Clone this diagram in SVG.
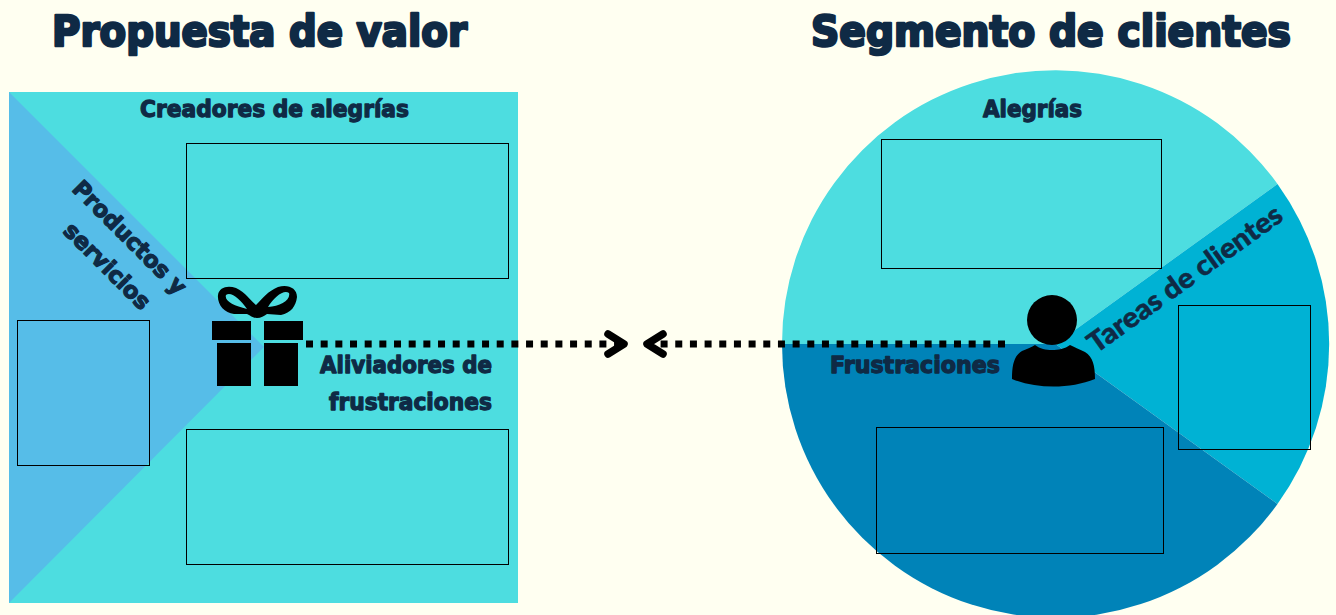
<svg xmlns="http://www.w3.org/2000/svg" width="1336" height="615" viewBox="0 0 1336 615">
<style>
.t{font-family:"DejaVu Sans","Liberation Sans",sans-serif;font-weight:700;fill:#0f2a45;stroke:#0f2a45;stroke-linejoin:round}
.h{font-size:42px;stroke-width:2.6px}
.s{font-size:23px;stroke-width:1.3px}
.b{fill:none;stroke:#000;stroke-width:1px}
.d{fill:none;stroke:#000;stroke-width:7px;stroke-dasharray:7 7.67}
.c{fill:none;stroke:#000;stroke-width:7.500px;stroke-linecap:round;stroke-linejoin:round}
</style>
<rect width="1336" height="615" fill="#fffff1"/>
<g id="titulo-propuesta"><text class="t h" x="52" y="46" textLength="415" lengthAdjust="spacingAndGlyphs">Propuesta de valor</text></g>
<g id="titulo-segmento"><text class="t h" x="811" y="46" textLength="480" lengthAdjust="spacingAndGlyphs">Segmento de clientes</text></g>
<g id="propuesta-fondo">
<rect x="9" y="92" width="509" height="511" fill="#4ddde0"/>
<path d="M9 92L264 347L9 603Z" fill="#56bde8"/>
</g>
<g id="segmento-fondo">
<path d="M782 344A273.500 273.500 0 0 1 1277.500 184L1055.500 344Z" fill="#4ddde0"/>
<path d="M1055.500 344L1277.500 184A273.500 273.500 0 0 1 1277.500 504Z" fill="#00b2d4"/>
<path d="M1055.500 344L1277.500 504A273.500 273.500 0 0 1 782 344Z" fill="#0083b8"/>
</g>
<g id="creadores"><text class="t s" x="140" y="117" textLength="269" lengthAdjust="spacingAndGlyphs">Creadores de alegrías</text><rect class="b" x="186.500" y="143.500" width="322" height="135"/></g>
<g id="productos">
<text class="t s" transform="translate(71 190) rotate(45)" textLength="150" lengthAdjust="spacingAndGlyphs">Productos y</text>
<text class="t s" transform="translate(62 232) rotate(45)" textLength="112" lengthAdjust="spacingAndGlyphs">servicios</text>
<rect class="b" x="17.500" y="320.500" width="132" height="145"/></g>
<g id="aliviadores">
<text class="t s" x="320" y="373" textLength="172" lengthAdjust="spacingAndGlyphs">Aliviadores de</text>
<text class="t s" x="329" y="410" textLength="163" lengthAdjust="spacingAndGlyphs">frustraciones</text>
<rect class="b" x="186.500" y="429.500" width="322" height="135"/></g>
<g id="alegrias"><text class="t s" x="983" y="117" textLength="99" lengthAdjust="spacingAndGlyphs">Alegrías</text><rect class="b" x="881.500" y="139.500" width="280" height="129"/></g>
<g id="tareas"><text x="1096" y="354" transform="rotate(-35.500 1096 354)" font-family="Lato,'Open Sans',sans-serif" font-weight="900" font-size="28" fill="#0f2a45" stroke="#0f2a45" stroke-width=".5" textLength="232" lengthAdjust="spacingAndGlyphs">Tareas de clientes</text><rect class="b" x="1178.500" y="305.500" width="132" height="144"/></g>
<g id="frustraciones"><text class="t s" x="830" y="373" textLength="170" lengthAdjust="spacingAndGlyphs">Frustraciones</text><rect class="b" x="876.500" y="427.500" width="287" height="126"/></g>
<g id="conectores">
<path class="d" d="M306 344H622"/>
<path class="c" d="M608 334L624 344L608 354"/>
<path class="d" d="M1005 344H654"/>
<path class="c" d="M663 334L647 344L663 354"/>
</g>
<g id="regalo">
<rect x="212" y="321" width="39" height="19"/><rect x="264" y="321" width="39" height="19"/>
<rect x="217" y="343" width="34" height="43"/><rect x="264" y="343" width="34" height="43"/>
<path fill-rule="evenodd" d="M257 318C252 318 250 315 247 314L234 314C224 313 217 304 218 295C219 287 228 285 236 288C245 292 251 301 256 305C262 299 268 291 278 287C288 284 297 288 297 297C296 306 291 313 281 315L267 314C264 316 261 318 257 318ZM226 295C224 301 234 306 247 309C241 300 231 291 226 295ZM289 293C284 289 274 297 268 307C280 306 291 300 289 293Z"/>
</g>
<g id="persona">
<circle cx="1052" cy="320" r="25"/>
<path d="M1012 379C1012 365 1014 356 1022 351C1027 349 1032 347 1035 345C1040 349 1046 350 1052 350C1058 350 1065 349 1070 345C1074 347 1079 349 1085 352C1093 357 1095 366 1095 379C1070 389 1037 389 1012 379Z"/>
</g>
</svg>
